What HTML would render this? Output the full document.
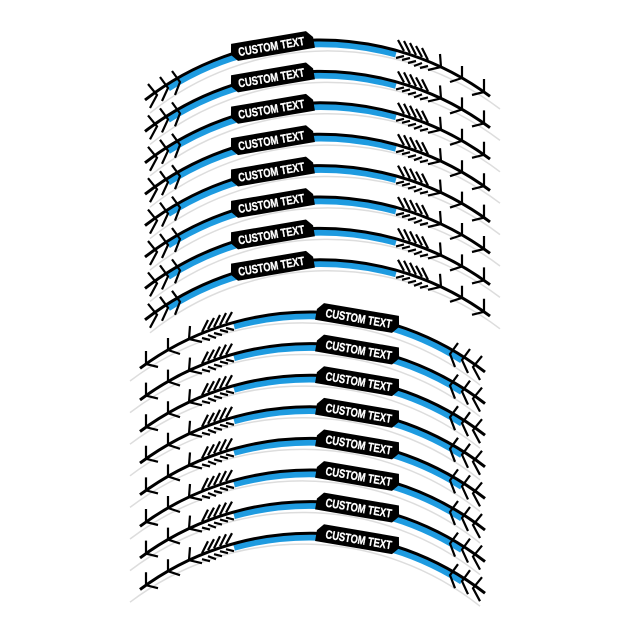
<!DOCTYPE html>
<html><head><meta charset="utf-8"><style>
html,body{margin:0;padding:0;background:#fff;}
svg{display:block}
text{font-family:"Liberation Sans",sans-serif;font-weight:bold;font-size:12px;fill:#fff;stroke:#fff;stroke-width:0.3;}
</style></head><body>
<svg width="640" height="640" viewBox="0 0 640 640" xmlns="http://www.w3.org/2000/svg">
<defs>
<g id="s">
  <path d="M150,113 A285,285 0 0 1 500,109" fill="none" stroke="#ddd" stroke-width="1.5"/>
  <path d="M168,88 A285,285 0 0 1 396,54" fill="none" stroke="#1e9be0" stroke-width="7"/>
  <path d="M145,100 A285,285 0 0 1 490,96.3" fill="none" stroke="#000" stroke-width="3"/>
  <g transform="translate(272,46) rotate(-9.7)">
    <polygon points="-40,-9 36,-9 42,-2 42,9 -36,9 -42,2" fill="#000"/>
  </g>
  <g stroke="#000" stroke-width="2.2" fill="none">
    <path d="M398,40 L404,51 M404,41 L410,53 M410,43 L416,55 M416,46 L422,57 M422,48 L428,60"/>
    <path d="M396,58 L404,56 M402,60 L410,58 M408,63 L416,61 M414,66 L422,63 M420,68 L428,66"/>
    <path d="M440,54 L441,67 L428,70 M462,66 L462,78 L450,82 M484,79 L484,92 L472,95"/>
    <path d="M148,84 L157,95 L150,108 M160,77 L168,88 L162,101 M172,71 L180,82 L175,95"/>
  </g>
</g>
</defs>
<g>
<use href="#s"/>
<use href="#s" transform="translate(0,31.4)"/>
<use href="#s" transform="translate(0,62.8)"/>
<use href="#s" transform="translate(0,94.2)"/>
<use href="#s" transform="translate(0,125.6)"/>
<use href="#s" transform="translate(0,157)"/>
<use href="#s" transform="translate(0,188.4)"/>
<use href="#s" transform="translate(0,219.8)"/>
</g>
<g transform="translate(630,0) scale(-1,1)">
<use href="#s" transform="translate(0,272)"/>
<use href="#s" transform="translate(0,303.6)"/>
<use href="#s" transform="translate(0,335.2)"/>
<use href="#s" transform="translate(0,366.8)"/>
<use href="#s" transform="translate(0,398.4)"/>
<use href="#s" transform="translate(0,430)"/>
<use href="#s" transform="translate(0,461.6)"/>
<use href="#s" transform="translate(0,493.2)"/>
</g>
<g text-anchor="middle">
<text transform="translate(272,50.5) rotate(-9.7) scale(0.78,1)">CUSTOM TEXT</text>
<text transform="translate(272,81.9) rotate(-9.7) scale(0.78,1)">CUSTOM TEXT</text>
<text transform="translate(272,113.3) rotate(-9.7) scale(0.78,1)">CUSTOM TEXT</text>
<text transform="translate(272,144.7) rotate(-9.7) scale(0.78,1)">CUSTOM TEXT</text>
<text transform="translate(272,176.1) rotate(-9.7) scale(0.78,1)">CUSTOM TEXT</text>
<text transform="translate(272,207.5) rotate(-9.7) scale(0.78,1)">CUSTOM TEXT</text>
<text transform="translate(272,238.9) rotate(-9.7) scale(0.78,1)">CUSTOM TEXT</text>
<text transform="translate(272,270.3) rotate(-9.7) scale(0.78,1)">CUSTOM TEXT</text>
<text transform="translate(358,322.5) rotate(9.7) scale(0.78,1)">CUSTOM TEXT</text>
<text transform="translate(358,354.1) rotate(9.7) scale(0.78,1)">CUSTOM TEXT</text>
<text transform="translate(358,385.7) rotate(9.7) scale(0.78,1)">CUSTOM TEXT</text>
<text transform="translate(358,417.3) rotate(9.7) scale(0.78,1)">CUSTOM TEXT</text>
<text transform="translate(358,448.9) rotate(9.7) scale(0.78,1)">CUSTOM TEXT</text>
<text transform="translate(358,480.5) rotate(9.7) scale(0.78,1)">CUSTOM TEXT</text>
<text transform="translate(358,512.1) rotate(9.7) scale(0.78,1)">CUSTOM TEXT</text>
<text transform="translate(358,543.7) rotate(9.7) scale(0.78,1)">CUSTOM TEXT</text>
</g>
</svg>
</body></html>
